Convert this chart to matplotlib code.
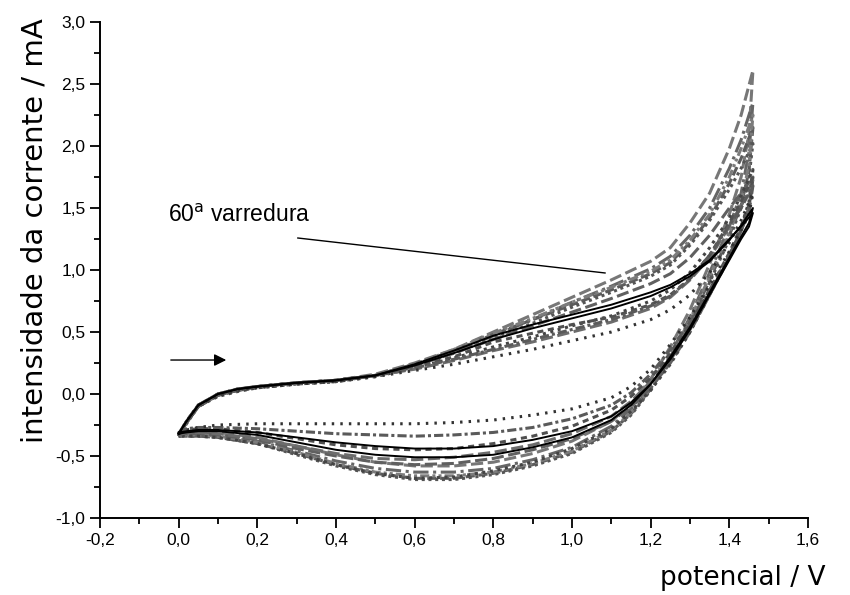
import matplotlib
matplotlib.use("Agg")
import matplotlib.pyplot as plt
from matplotlib.ticker import MultipleLocator, FuncFormatter

# potential grids (V) for forward and reverse half-scans
E_fwd = [0.00, 0.02, 0.05, 0.10, 0.15, 0.20, 0.30, 0.40, 0.50, 0.60, 0.70, 0.80,
         0.90, 1.00, 1.10, 1.20, 1.25, 1.30, 1.35, 1.40, 1.43, 1.46]
E_rev = [1.46, 1.45, 1.43, 1.40, 1.35, 1.30, 1.25, 1.20, 1.15, 1.10, 1.00, 0.90,
         0.80, 0.70, 0.60, 0.50, 0.40, 0.30, 0.20, 0.10, 0.05, 0.02, 0.00]

# current (mA), one cycle per pair
c1_fwd = [-0.34, -0.23, -0.10, -0.01, 0.03, 0.06, 0.09, 0.11, 0.16, 0.25, 0.36, 0.50,
          0.64, 0.78, 0.92, 1.07, 1.18, 1.38, 1.62, 1.98, 2.25, 2.61]
c1_rev = [2.61, 2.10, 1.75, 1.45, 1.05, 0.68, 0.38, 0.12, -0.08, -0.22, -0.38, -0.48,
          -0.55, -0.58, -0.58, -0.55, -0.49, -0.42, -0.35, -0.31, -0.31, -0.32, -0.34]
c2_fwd = [-0.33, -0.22, -0.09, 0.00, 0.04, 0.06, 0.09, 0.11, 0.15, 0.24, 0.34, 0.47,
          0.60, 0.74, 0.87, 1.01, 1.11, 1.28, 1.50, 1.82, 2.05, 2.35]
c2_rev = [2.35, 1.95, 1.62, 1.35, 0.98, 0.62, 0.32, 0.07, -0.12, -0.26, -0.43, -0.53,
          -0.60, -0.63, -0.63, -0.60, -0.54, -0.46, -0.38, -0.33, -0.32, -0.33, -0.34]
c3_fwd = [-0.34, -0.24, -0.10, -0.01, 0.03, 0.05, 0.08, 0.10, 0.15, 0.23, 0.33, 0.45,
          0.57, 0.70, 0.82, 0.95, 1.04, 1.20, 1.40, 1.65, 1.82, 2.02]
c3_rev = [2.02, 1.75, 1.50, 1.25, 0.90, 0.55, 0.27, 0.03, -0.17, -0.31, -0.48, -0.58,
          -0.65, -0.69, -0.69, -0.65, -0.58, -0.49, -0.40, -0.35, -0.34, -0.34, -0.34]
c4_fwd = [-0.34, -0.23, -0.10, -0.02, 0.02, 0.05, 0.08, 0.10, 0.14, 0.21, 0.29, 0.38,
          0.46, 0.55, 0.63, 0.75, 0.84, 0.98, 1.18, 1.42, 1.60, 1.81]
c4_rev = [1.81, 1.55, 1.35, 1.12, 0.80, 0.50, 0.24, 0.03, -0.14, -0.28, -0.44, -0.55,
          -0.62, -0.67, -0.68, -0.64, -0.57, -0.48, -0.40, -0.35, -0.34, -0.34, -0.34]
c5_fwd = [-0.32, -0.22, -0.09, -0.01, 0.03, 0.05, 0.08, 0.10, 0.14, 0.19, 0.24, 0.30,
          0.36, 0.43, 0.50, 0.60, 0.68, 0.80, 0.98, 1.22, 1.40, 1.62]
c5_rev = [1.62, 1.45, 1.32, 1.15, 0.88, 0.62, 0.40, 0.20, 0.06, -0.03, -0.12, -0.17,
          -0.21, -0.23, -0.24, -0.24, -0.24, -0.24, -0.24, -0.25, -0.27, -0.29, -0.32]
c6_fwd = [-0.33, -0.22, -0.09, 0.00, 0.04, 0.06, 0.09, 0.11, 0.15, 0.20, 0.27, 0.35,
          0.42, 0.50, 0.58, 0.69, 0.78, 0.92, 1.10, 1.35, 1.52, 1.72]
c6_rev = [1.72, 1.50, 1.32, 1.10, 0.80, 0.52, 0.30, 0.10, -0.06, -0.18, -0.32, -0.41,
          -0.47, -0.51, -0.53, -0.52, -0.48, -0.42, -0.36, -0.32, -0.31, -0.31, -0.33]
c9_fwd = [-0.34, -0.23, -0.10, -0.01, 0.03, 0.06, 0.09, 0.11, 0.15, 0.24, 0.36, 0.49,
          0.61, 0.74, 0.86, 0.99, 1.08, 1.24, 1.45, 1.75, 1.98, 2.25]
c9_rev = [2.25, 1.85, 1.55, 1.30, 0.95, 0.60, 0.30, 0.05, -0.15, -0.29, -0.46, -0.56,
          -0.63, -0.66, -0.66, -0.63, -0.56, -0.47, -0.39, -0.34, -0.33, -0.33, -0.34]
c10_fwd = [-0.33, -0.22, -0.09, 0.00, 0.04, 0.06, 0.09, 0.11, 0.15, 0.22, 0.30, 0.42,
           0.49, 0.56, 0.62, 0.72, 0.80, 0.93, 1.12, 1.38, 1.55, 1.75]
c10_rev = [1.75, 1.52, 1.35, 1.14, 0.84, 0.56, 0.33, 0.13, -0.02, -0.13, -0.26, -0.34,
           -0.40, -0.44, -0.45, -0.44, -0.41, -0.36, -0.31, -0.28, -0.28, -0.29, -0.32]
c11_fwd = [-0.33, -0.23, -0.10, -0.01, 0.03, 0.06, 0.09, 0.11, 0.15, 0.23, 0.33, 0.44,
           0.55, 0.66, 0.77, 0.89, 0.97, 1.10, 1.28, 1.50, 1.62, 1.75]
c11_rev = [1.75, 1.50, 1.32, 1.10, 0.80, 0.50, 0.25, 0.05, -0.10, -0.22, -0.36, -0.45,
           -0.52, -0.56, -0.57, -0.55, -0.50, -0.44, -0.37, -0.33, -0.32, -0.32, -0.33]
c12_fwd = [-0.32, -0.22, -0.09, 0.00, 0.04, 0.06, 0.09, 0.11, 0.15, 0.21, 0.28, 0.36,
           0.44, 0.52, 0.60, 0.71, 0.79, 0.93, 1.12, 1.36, 1.50, 1.68]
c12_rev = [1.68, 1.47, 1.32, 1.12, 0.84, 0.58, 0.36, 0.16, 0.01, -0.09, -0.20, -0.27,
           -0.31, -0.33, -0.34, -0.33, -0.32, -0.30, -0.28, -0.27, -0.27, -0.28, -0.32]
c13_fwd = [-0.34, -0.23, -0.10, -0.01, 0.03, 0.06, 0.09, 0.11, 0.15, 0.24, 0.35, 0.48,
           0.60, 0.72, 0.84, 0.97, 1.06, 1.22, 1.42, 1.70, 1.90, 2.15]
c13_rev = [2.15, 1.80, 1.52, 1.28, 0.92, 0.57, 0.28, 0.04, -0.16, -0.30, -0.47, -0.57,
           -0.64, -0.68, -0.68, -0.64, -0.57, -0.48, -0.40, -0.35, -0.34, -0.34, -0.34]
# black solid lines (last scans, 60th)
b1_fwd = [-0.32, -0.22, -0.09, 0.00, 0.04, 0.06, 0.09, 0.11, 0.15, 0.24, 0.35, 0.47,
          0.56, 0.64, 0.72, 0.82, 0.88, 0.97, 1.08, 1.25, 1.35, 1.46]
b1_rev = [1.46, 1.35, 1.25, 1.08, 0.80, 0.52, 0.28, 0.08, -0.07, -0.18, -0.30, -0.37,
          -0.42, -0.44, -0.44, -0.42, -0.39, -0.35, -0.31, -0.29, -0.29, -0.30, -0.31]
b2_fwd = [-0.32, -0.22, -0.09, 0.00, 0.04, 0.06, 0.09, 0.11, 0.15, 0.23, 0.33, 0.44,
          0.53, 0.61, 0.69, 0.79, 0.86, 0.95, 1.07, 1.24, 1.36, 1.50]
b2_rev = [1.50, 1.38, 1.27, 1.10, 0.82, 0.54, 0.30, 0.08, -0.09, -0.21, -0.35, -0.43,
          -0.49, -0.51, -0.51, -0.49, -0.45, -0.39, -0.33, -0.30, -0.30, -0.31, -0.32]

gray_cycles = [
    (c1_fwd, c1_rev, "#777777", (0, (4, 1.5))),
    (c2_fwd, c2_rev, "#666666", (0, (5, 1.5, 1, 1.5))),
    (c13_fwd, c13_rev, "#5c5c5c", (0, (3, 1.2))),
    (c3_fwd, c3_rev, "#555555", (0, (1, 1.2))),
    (c9_fwd, c9_rev, "#7c7c7c", (0, (3, 1, 1, 1, 1, 1))),
    (c11_fwd, c11_rev, "#606060", (0, (4, 1.5))),
    (c4_fwd, c4_rev, "#444444", (0, (1, 1.5))),
    (c6_fwd, c6_rev, "#6c6c6c", (0, (4, 1.5))),
    (c10_fwd, c10_rev, "#505050", (0, (2, 1.5))),
    (c12_fwd, c12_rev, "#5a5a5a", (0, (3, 1, 1, 1))),
    (c5_fwd, c5_rev, "#333333", (0, (0.8, 2))),
]

plt.rcParams['font.family'] = ['Liberation Sans', 'DejaVu Sans']
fig = plt.figure(figsize=(8.5, 5.95), dpi=100)
ax = fig.add_axes([100/850, 77/595, 708/850, 496/595])

for fwd, rev, col, ls in gray_cycles:
    ax.plot(E_fwd + E_rev, fwd + rev, color=col, linestyle=ls, lw=2.2)
for fwd, rev in [(b1_fwd, b1_rev), (b2_fwd, b2_rev)]:
    ax.plot(E_fwd + E_rev, fwd + rev, color="black", lw=1.4)

ax.set_xlim(-0.2, 1.6)
ax.set_ylim(-1.0, 3.0)
ax.xaxis.set_major_locator(MultipleLocator(0.2))
ax.xaxis.set_minor_locator(MultipleLocator(0.1))
ax.yaxis.set_major_locator(MultipleLocator(0.5))
ax.yaxis.set_minor_locator(MultipleLocator(0.25))
comma = FuncFormatter(lambda v, p: ("%.1f" % (v + 0.0)).replace("-0.0", "0.0").replace(".", ","))
ax.xaxis.set_major_formatter(comma)
ax.yaxis.set_major_formatter(comma)
ax.tick_params(which='major', direction='out', length=7, width=1.3, labelsize=12.5)
ax.tick_params(which='minor', direction='out', length=4, width=1.3)
ax.spines['top'].set_visible(False)
ax.spines['right'].set_visible(False)
ax.spines['left'].set_linewidth(1.4)
ax.spines['bottom'].set_linewidth(1.4)

ax.text(-0.027, 1.387, r"60$^{\mathrm{a}}$ varredura", fontsize=16.5, va='baseline')
ax.plot([0.303, 1.084], [1.258, 0.976], color="black", lw=1)
ax.annotate("", xy=(0.128, 0.274), xytext=(-0.027, 0.274),
            arrowprops=dict(arrowstyle='-|>', color='black', lw=1, mutation_scale=18))

fig.text(35/850, 0.612, "intensidade da corrente / mA", rotation=90, fontsize=21,
         family='DejaVu Sans', ha='center', va='center')
fig.text(826/850, 0.029, "potencial / V", fontsize=19, family='DejaVu Sans',
         ha='right', va='center')

fig.savefig("out.png", dpi=100)
